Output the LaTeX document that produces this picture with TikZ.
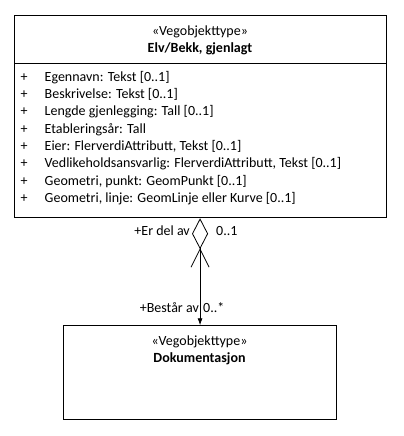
\documentclass[tikz,border=0pt]{standalone}
\usepackage{fontspec}
\setmainfont{Carlito}
\usetikzlibrary{arrows.meta,positioning}
\tikzset{
  classbox/.style={draw,line width=1bp,inner sep=0pt,anchor=north west},
  stereo/.style={font=\fontsize{14bp}{15bp}\selectfont,inner sep=0pt},
  classname/.style={font=\fontsize{14bp}{15bp}\selectfont\bfseries,inner sep=0pt},
  attr/.style={font=\fontsize{14bp}{15bp}\selectfont,anchor=mid west,inner sep=0pt},
  role/.style={font=\fontsize{14bp}{15bp}\selectfont,inner sep=0pt},
  assoc/.style={line width=0.8bp}
}
\begin{document}
\begin{tikzpicture}[x=1bp,y=-1bp]
  \useasboundingbox (0,0) rectangle (403,436);
  % upper class
  \node[classbox,minimum width=371.5bp,minimum height=202.5bp] (elv) at (14.3,14.7) {};
  \draw[line width=1bp] (elv.west |- 0,63.5) -- (elv.east |- 0,63.5);
  \node[stereo] (elvstereo) at (200,31.7) {«Vegobjekttype»};
  \node[classname] (elvname) at (200,48.3) {Elv/Bekk, gjenlagt};
  \foreach \txt [count=\i] in {{Egennavn: Tekst [0..1]},{Beskrivelse: Tekst [0..1]},
      {Lengde gjenlegging: Tall [0..1]},{Etableringsår: Tall},
      {Eier: FlerverdiAttributt, Tekst [0..1]},
      {Vedlikeholdsansvarlig: FlerverdiAttributt, Tekst [0..1]},
      {Geometri, punkt: GeomPunkt [0..1]},{Geometri, linje: GeomLinje eller Kurve [0..1]}} {
    \node[attr] (plus\i) at (20.5,61.7+17.3*\i) {+};
    \node[attr] (attr\i) at (44.5,61.7+17.3*\i) {\txt};
  }
  % lower class
  \node[classbox,minimum width=272.5bp,minimum height=93.7bp] (dok) at (63.3,325.3) {};
  \node[stereo] (dokstereo) at (199.5,342) {«Vegobjekttype»};
  \node[classname] (dokname) at (199.5,359) {Dokumentasjon};
  % aggregation
  \draw[assoc,{Diamond[open,length=31bp,width=16bp]}-{Latex[length=7bp,width=5bp]}]
    (dok.north |- elv.south) -- (dok.north);
  \coordinate (navtip) at ([yshift=-31bp]dok.north |- elv.south);
  \draw[assoc] ([shift={(-9,18)}]navtip) -- (navtip) -- ([shift={(9,18)}]navtip);
  \node[role,anchor=mid east] (erdelav) at (190,233.3) {+Er del av};
  \node[role,anchor=mid west] (multup) at (216,233.3) {0..1};
  \node[role,anchor=mid east] (bestar) at (199,310) {+Består av};
  \node[role,anchor=mid west] (multdown) at (203,310) {0..*};
\end{tikzpicture}
\end{document}
